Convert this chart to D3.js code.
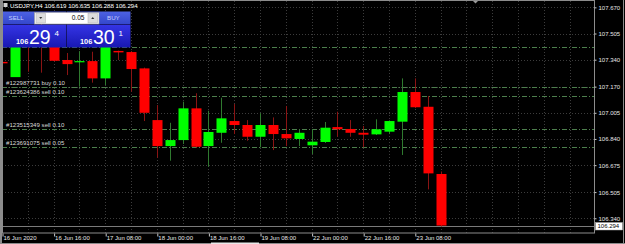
<!DOCTYPE html>
<html>
<head>
<meta charset="utf-8">
<script src="https://cdn.jsdelivr.net/npm/d3@7"></script>
<style>
  body { margin: 0; background: #000; }
  svg { display: block; font-family: "Liberation Sans", Arial, sans-serif; }
</style>
</head>
<body>
<svg id="chart" width="625" height="244"></svg>
<script>
// chart data (USDJPY H4)
const symbol = "USDJPY,H4";
const lastOHLC = [106.619, 106.635, 106.288, 106.294];
const bid = 106.294;
const bidText = ["106", "29", "4"];
const askText = ["106", "30", "1"];
const lotSize = "0.05";

const opens  = [107.326, 107.230, 107.500, 107.520, 107.460, 107.338, 107.328, 107.331, 107.222, 107.395,
                107.388, 107.285, 106.959, 106.795, 106.833, 107.033, 106.795, 106.879, 106.953, 106.928,
                106.854, 106.928, 106.871, 106.840, 106.800, 106.821, 106.915, 106.903, 106.879, 106.869,
                106.886, 106.949, 107.136, 107.043, 106.619];
const highs  = [107.335, 107.470, 107.560, 107.580, 107.520, 107.382, 107.394, 107.390, 107.460, 107.397,
                107.395, 107.290, 107.054, 106.942, 107.075, 107.128, 107.018, 107.100, 107.060, 106.959,
                107.002, 106.976, 107.048, 106.901, 106.901, 106.947, 107.012, 106.959, 106.922, 106.964,
                106.957, 107.222, 107.222, 107.111, 106.635];
const lows   = [107.312, 107.232, 107.264, 107.258, 107.330, 107.243, 107.170, 107.195, 107.180, 107.338,
                107.138, 106.953, 106.722, 106.703, 106.808, 106.785, 106.665, 106.816, 106.871, 106.829,
                106.787, 106.770, 106.795, 106.795, 106.745, 106.815, 106.854, 106.854, 106.787, 106.865,
                106.871, 106.739, 107.035, 106.522, 106.288];
const closes = [107.317, 107.440, 107.440, 107.460, 107.333, 107.312, 107.331, 107.222, 107.430, 107.386,
                107.281, 107.005, 106.795, 106.833, 107.033, 106.791, 106.884, 106.970, 106.928, 106.854,
                106.928, 106.871, 106.844, 106.879, 106.823, 106.911, 106.901, 106.879, 106.867, 106.901,
                106.953, 107.136, 107.040, 106.623, 106.294];

const timeLabels = ["16 Jun 2020", "16 Jun 16:00", "17 Jun 08:00", "18 Jun 00:00", "18 Jun 16:00",
                    "19 Jun 08:00", "22 Jun 00:00", "22 Jun 16:00", "23 Jun 08:00"];
const barsPerLabel = 4;
const priceTicks = [107.670, 107.505, 107.340, 107.170, 107.005, 106.840, 106.675, 106.505, 106.340];

const orderLabels = ["", "#122987731 buy 0.10", "#123624386 sell 0.10", "#123515349 sell 0.10", "#123691075 sell 0.05"];
const orderPrices = [107.422, 107.166, 107.113, 106.901, 106.789];

// size and boundary
const svg = d3.select("#chart");
const width = +svg.attr("width");
const height = +svg.attr("height");
const plot = { left: 2, right: 594, top: 1, bottom: 233 };
const barStep = 12.9;
const nSlots = 46;

const x = d3.scaleLinear()
    .domain([0, nSlots])
    .range([plot.left, plot.left + barStep * nSlots]);
const y = d3.scaleLinear()
    .domain([106.247, 107.710])
    .range([plot.bottom, plot.top]);

const defs = svg.append("defs");
defs.append("clipPath").attr("id", "plotclip")
  .append("rect")
    .attr("x", plot.left + 1).attr("y", plot.top)
    .attr("width", plot.right - plot.left - 1).attr("height", plot.bottom - plot.top);

// grid
const grid = svg.append("g").attr("stroke", "#3c3c3c").attr("stroke-dasharray", "1,2");
grid.selectAll("line.h").data(priceTicks).enter().append("line")
    .attr("x1", plot.left).attr("x2", plot.right)
    .attr("y1", d => Math.round(y(d)) + 0.5).attr("y2", d => Math.round(y(d)) + 0.5);
grid.selectAll("line.v").data(d3.range(0, nSlots, 2)).enter().append("line")
    .attr("x1", d => Math.round(x(d)) + 0.5).attr("x2", d => Math.round(x(d)) + 0.5)
    .attr("y1", plot.top).attr("y2", plot.bottom);

// order lines
const orders = svg.append("g");
orders.selectAll("line").data(orderPrices).enter().append("line")
    .attr("x1", plot.left).attr("x2", plot.right)
    .attr("y1", d => Math.round(y(d)) + 0.5).attr("y2", d => Math.round(y(d)) + 0.5)
    .attr("stroke", "#4d7f4d")
    .attr("stroke-dasharray", "5,2,1,2");
orders.selectAll("text").data(orderPrices).enter().append("text")
    .attr("x", 6)
    .attr("y", d => Math.round(y(d)) - 2)
    .attr("fill", "#dadada")
    .attr("font-size", 6.1)
    .text((d, i) => orderLabels[i]);

// bid line
svg.append("line")
    .attr("x1", plot.left).attr("x2", plot.right)
    .attr("y1", Math.round(y(bid)) + 0.5).attr("y2", Math.round(y(bid)) + 0.5)
    .attr("stroke", "#7a7a7a");

// candles
const candles = svg.append("g").attr("clip-path", "url(#plotclip)")
  .selectAll("g").data(opens).enter().append("g");
candles.append("line")
    .attr("x1", (d, i) => Math.round(x(i)) + 0.5)
    .attr("x2", (d, i) => Math.round(x(i)) + 0.5)
    .attr("y1", (d, i) => y(highs[i]))
    .attr("y2", (d, i) => y(lows[i]))
    .attr("stroke", (d, i) => closes[i] >= opens[i] ? "#2f7a2f" : "#8a1414");
candles.append("rect")
    .attr("x", (d, i) => Math.round(x(i)) - 4.5)
    .attr("width", 10)
    .attr("y", (d, i) => y(Math.max(opens[i], closes[i])))
    .attr("height", (d, i) => Math.max(1.2, Math.abs(y(opens[i]) - y(closes[i]))))
    .attr("fill", (d, i) => closes[i] >= opens[i] ? "#00ff00" : "#ff0000");

// frame
svg.append("rect")
    .attr("x", plot.left + 0.5).attr("y", plot.top - 0.5)
    .attr("width", plot.right - plot.left).attr("height", plot.bottom - plot.top + 0.5)
    .attr("fill", "none").attr("stroke", "#8c8c8c");
svg.append("rect").attr("x", 0).attr("y", 0).attr("width", 2).attr("height", height).attr("fill", "#8c8c8c");
svg.append("line").attr("x1", 623.5).attr("x2", 623.5).attr("y1", 0).attr("y2", height).attr("stroke", "#8c8c8c");
svg.append("line").attr("x1", 0).attr("x2", width).attr("y1", 243.5).attr("y2", 243.5).attr("stroke", "#8c8c8c");
svg.append("rect").attr("x", 211).attr("y", 242.5).attr("width", 48).attr("height", 1.5).attr("fill", "#e8e8e8");
svg.append("path").attr("d", "M473,1 L478,1 L475.5,3.5 Z").attr("fill", "#9a9a9a");

// axes
const yAxis = d3.axisRight(y)
    .tickValues(priceTicks)
    .tickFormat(d3.format(".3f"))
    .tickSize(2)
    .tickPadding(2);
const gy = svg.append("g")
    .attr("transform", `translate(${plot.right + 0.5},0)`)
    .call(yAxis);

const xAxis = d3.axisBottom(x)
    .tickValues(timeLabels.map((d, i) => i * barsPerLabel))
    .tickFormat((d, i) => timeLabels[i])
    .tickSize(3);
const gx = svg.append("g")
    .attr("transform", `translate(0,${plot.bottom + 0.5})`)
    .call(xAxis);

[gx, gy].forEach(g => {
  g.select(".domain").remove();
  g.selectAll(".tick line").attr("stroke", "#c8c8c8");
  g.selectAll(".tick text").attr("fill", "#e6e6e6").attr("font-size", 6).attr("font-family", null);
});
gx.selectAll(".tick text").attr("text-anchor", "start").attr("dx", 1).attr("y", 2);
gx.selectAll(".tick line").attr("transform", "translate(0.5,0)");

// bid label
const bidY = Math.round(y(bid));
svg.append("rect").attr("x", 595.5).attr("y", bidY - 3.5).attr("width", 27).attr("height", 7.5)
    .attr("fill", "#fff").attr("stroke", "#aaa").attr("stroke-width", 0.5);
svg.append("text").attr("x", 597.5).attr("y", bidY + 2.3)
    .attr("font-size", 6).attr("fill", "#000").text(bid.toFixed(3));

// header
svg.append("rect").attr("x", 3.5).attr("y", 3).attr("width", 4).attr("height", 4)
    .attr("fill", "#d0d0d0");
svg.append("text").attr("x", 10).attr("y", 7.8)
    .attr("font-size", 6.1).attr("fill", "#fff")
    .text(symbol + "  " + lastOHLC.map(d => d.toFixed(3)).join(" "));

// one click trading panel
const grad = defs.append("linearGradient").attr("id", "bigblue").attr("x1", 0).attr("x2", 0).attr("y1", 0).attr("y2", 1);
grad.append("stop").attr("offset", "0%").attr("stop-color", "#3535e6");
grad.append("stop").attr("offset", "100%").attr("stop-color", "#1818b2");
const hgrad = defs.append("linearGradient").attr("id", "hdrblue").attr("x1", 0).attr("x2", 0).attr("y1", 0).attr("y2", 1);
hgrad.append("stop").attr("offset", "0%").attr("stop-color", "#4d62e2");
hgrad.append("stop").attr("offset", "100%").attr("stop-color", "#3447cc");

const panel = svg.append("g");
const halves = [{ x0: 3, side: "SELL", txt: bidText, lx: 8.5 }, { x0: 67, side: "BUY", txt: askText, lx: 107 }];
halves.forEach(h => {
  panel.append("rect").attr("x", h.x0).attr("y", 11.5).attr("width", 63.5).attr("height", 12.5).attr("fill", "url(#hdrblue)");
  panel.append("rect").attr("x", h.x0).attr("y", 24.5).attr("width", 63.5).attr("height", 23).attr("fill", "url(#bigblue)");
  panel.append("text").attr("x", h.lx).attr("y", 20).attr("font-size", 6.2).attr("fill", "#c9d2ff").text(h.side);
  panel.append("text").attr("x", h.x0 + 13).attr("y", 43.5).attr("font-size", 7.4).attr("font-weight", "bold")
      .attr("fill", "#fff").text(h.txt[0]);
  panel.append("text").attr("x", h.x0 + 26).attr("y", 44).attr("font-size", 19.5)
      .attr("fill", "#fff").text(h.txt[1]);
  panel.append("text").attr("x", h.x0 + 51.5).attr("y", 35.5).attr("font-size", 8)
      .attr("fill", "#fff").text(h.txt[2]);
});
panel.append("rect").attr("x", 34.5).attr("y", 12.5).attr("width", 64.5).attr("height", 11.5)
    .attr("fill", "#fff").attr("stroke", "#9a9a9a").attr("stroke-width", 0.6);
[36, 88].forEach((bx, i) => {
  panel.append("rect").attr("x", bx).attr("y", 13.5).attr("width", 9.5).attr("height", 9.5)
      .attr("fill", "#dcdcdc").attr("stroke", "#b0b0b0").attr("stroke-width", 0.5);
  panel.append("path")
      .attr("d", i === 0 ? `M${bx + 3.2},17 L${bx + 6.3},17 L${bx + 4.75},19 Z` : `M${bx + 3.2},19 L${bx + 6.3},19 L${bx + 4.75},17 Z`)
      .attr("fill", "#333");
});
panel.append("text").attr("x", 84.5).attr("y", 20.3).attr("text-anchor", "end")
    .attr("font-size", 6.6).attr("fill", "#000").text(lotSize);
</script>
</body>
</html>
